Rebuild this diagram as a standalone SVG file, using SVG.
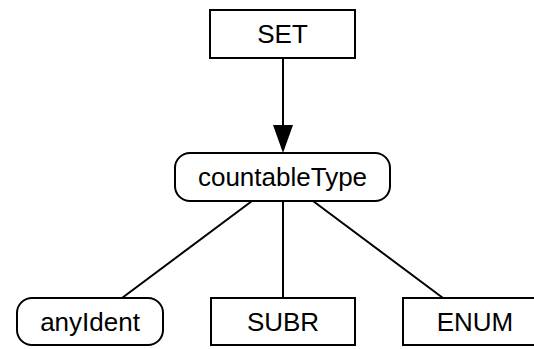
<svg xmlns="http://www.w3.org/2000/svg" width="534" height="349" viewBox="0 0 534 349">
<style>
.n{fill:#fff;stroke:#000;stroke-width:2}
.t{font-family:"Liberation Sans",Arial,sans-serif;font-size:26px;fill:#000;text-anchor:middle}
.e{stroke:#000;stroke-width:2;fill:none}
</style>
<defs>
<marker id="ah" markerUnits="userSpaceOnUse" markerWidth="28" markerHeight="20" refX="15" refY="10" orient="auto" viewBox="0 0 28 20">
<path d="M0,0 L28,10 L0,20 z" fill="#000"/>
</marker>
</defs>
<g id="connectors">
<line class="e" x1="283" y1="58" x2="283" y2="140" marker-end="url(#ah)"/>
<line class="e" x1="252" y1="201" x2="122" y2="298"/>
<line class="e" x1="283" y1="201" x2="283" y2="298"/>
<line class="e" x1="313" y1="201" x2="443" y2="298"/>
</g>
<g id="SET">
<rect class="n" x="210" y="10" width="145" height="48"/>
<text class="t" x="282.5" y="43">SET</text>
</g>
<g id="countableType">
<rect class="n" x="175" y="153" width="215" height="48" rx="15" ry="15"/>
<text class="t" x="282.5" y="186">countableType</text>
</g>
<g id="anyIdent">
<rect class="n" x="17" y="298" width="146" height="47" rx="15" ry="15"/>
<text class="t" x="90" y="331">anyIdent</text>
</g>
<g id="SUBR">
<rect class="n" x="211" y="298" width="144" height="47"/>
<text class="t" x="283" y="331">SUBR</text>
</g>
<g id="ENUM">
<rect class="n" x="403" y="298" width="145" height="47"/>
<text class="t" x="475" y="331">ENUM</text>
</g>
</svg>
